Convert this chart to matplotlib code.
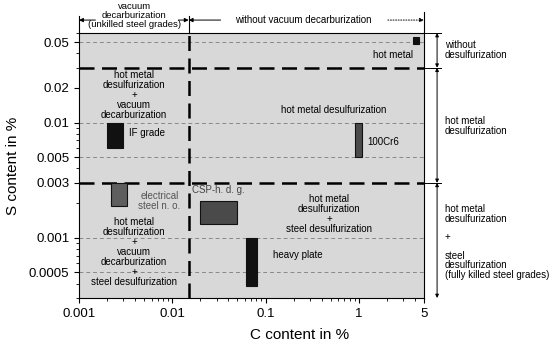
import numpy as np
import matplotlib
matplotlib.use("Agg")
import matplotlib.pyplot as plt
from matplotlib.patches import Rectangle
from matplotlib.ticker import FixedLocator, NullFormatter, LogLocator

# ── data ──────────────────────────────────────────────────────────────────────
C_LIM = (0.001, 5.0)
S_LIM = (0.0003, 0.06)
C_VAC = 0.015                 # vacuum / no-vacuum border
S_BORDERS = [0.03, 0.003]     # desulfurization route borders
S_GRID = [0.05, 0.01, 0.005, 0.001, 0.0005]

x_ticks = [0.001, 0.01, 0.1, 1, 5]
x_labels = ["0.001", "0.01", "0.1", "1", "5"]
y_ticks = [0.05, 0.02, 0.01, 0.005, 0.003, 0.001, 0.0005]
y_labels = ["0.05", "0.02", "0.01", "0.005", "0.003", "0.001", "0.0005"]

# steel grade windows: name, C min, C max, S min, S max, colour
grade_names = ["hot metal", "IF grade", "100Cr6", "electrical steel", "CSP-h.d.g.", "heavy plate"]
grade_c_min = [3.8, 0.002, 0.9, 0.0022, 0.02, 0.061]
grade_c_max = [4.4, 0.003, 1.07, 0.0033, 0.05, 0.082]
grade_s_min = [0.048, 0.006, 0.005, 0.0019, 0.00132, 0.00038]
grade_s_max = [0.055, 0.01, 0.01, 0.003, 0.0021, 0.001]
grade_colors = ["#111111", "#111111", "#4a4a4a", "#5e5e5e", "#4a4a4a", "#111111"]

plt.rcParams.update({"font.family": "Liberation Sans", "font.size": 10})

fig = plt.figure(figsize=(5.54, 3.45), dpi=100)
ax = fig.add_axes([0.1426, 0.1362, 0.6227, 0.768])
ax.set_xscale("log")
ax.set_yscale("log")
ax.set_xlim(*C_LIM)
ax.set_ylim(*S_LIM)
ax.set_facecolor("#d8d8d8")

# grid + borders
for s in S_GRID:
    ax.axhline(s, color="#888888", lw=0.7, ls=(0, (4, 3)))
for s in S_BORDERS:
    ax.axhline(s, color="black", lw=1.8, ls=(0, (6, 3)))
ax.axvline(C_VAC, color="black", lw=1.8, ls=(0, (6, 3)))

for c0, c1, s0, s1, col in zip(grade_c_min, grade_c_max, grade_s_min, grade_s_max, grade_colors):
    ax.add_patch(Rectangle((c0, s0), c1 - c0, s1 - s0, facecolor=col,
                           edgecolor="#111111", lw=0.8, zorder=3))

# ticks
ax.xaxis.set_major_locator(FixedLocator(x_ticks))
ax.set_xticklabels(x_labels)
ax.xaxis.set_minor_locator(LogLocator(base=10, subs=np.arange(2, 10)))
ax.xaxis.set_minor_formatter(NullFormatter())
ax.yaxis.set_major_locator(FixedLocator(y_ticks))
ax.set_yticklabels(y_labels)
ax.yaxis.set_minor_locator(LogLocator(base=10, subs=np.arange(2, 10)))
ax.yaxis.set_minor_formatter(NullFormatter())
ax.tick_params(labelsize=9.5)
ax.set_xlabel("C content in %", fontsize=11)
ax.set_ylabel("S content in %", fontsize=11)
ax.xaxis.set_label_coords(0.64, -0.14)
ax.xaxis.label.set_va("center")
ax.yaxis.set_label_coords(-0.19, 0.5)
ax.yaxis.label.set_va("center")

# labels inside the chart
fs = 7
ax.text(3.8, 0.039, "hot metal", fontsize=fs, ha="right", va="center")
ax.text(0.0039, 0.0175, "hot metal\ndesulfurization\n+\nvacuum\ndecarburization",
        fontsize=fs, ha="center", va="center", linespacing=1.0)
ax.text(0.0034, 0.0082, "IF grade", fontsize=fs, ha="left", va="center")
ax.text(0.54, 0.013, "hot metal desulfurization", fontsize=fs, ha="center", va="center")
ax.text(1.22, 0.0068, "100Cr6", fontsize=fs, ha="left", va="center")
ax.text(0.0073, 0.0021, "electrical\nsteel n. o.", fontsize=fs, ha="center", va="center",
        color="#555555", linespacing=1.0)
ax.text(0.0164, 0.0026, "CSP-h. d. g.", fontsize=fs, ha="left", va="center", color="#444444")
ax.text(0.0039, 0.00076,
        "hot metal\ndesulfurization\n+\nvacuum\ndecarburization\n+\nsteel desulfurization",
        fontsize=fs, ha="center", va="center", linespacing=1.0)
ax.text(0.48, 0.0016, "hot metal\ndesulfurization\n+\nsteel desulfurization",
        fontsize=fs, ha="center", va="center", linespacing=1.0)
ax.text(0.121, 0.00071, "heavy plate", fontsize=fs, ha="left", va="center")

# top annotations (x in data, y in axes)
tx = ax.get_xaxis_transform()
ya = 1.049
for c, top in [(C_LIM[0], 1.065), (C_VAC, 1.065), (C_LIM[1], 1.08)]:
    ax.plot([c, c], [1.0, top], transform=tx, color="black", lw=0.8, clip_on=False)
arr = dict(arrowstyle="-|>", lw=0.7, color="black", mutation_scale=6, shrinkA=0, shrinkB=0)
ax.annotate("", xy=(C_LIM[0], ya), xytext=(0.0015, ya), xycoords=tx, arrowprops=arr)
ax.annotate("", xy=(C_VAC, ya), xytext=(0.0116, ya), xycoords=tx, arrowprops=arr)
ax.text(0.0039, 1.066, "vacuum\ndecarburization\n(unkilled steel grades)", transform=tx,
        fontsize=6.8, ha="center", va="center", linespacing=1.0, clip_on=False)
ax.annotate("", xy=(C_VAC, ya), xytext=(0.033, ya), xycoords=tx, arrowprops=arr)
ax.annotate("", xy=(C_LIM[1], ya), xytext=(2.05, ya), xycoords=tx,
            arrowprops=dict(arr, ls=":"))
ax.text(0.256, 1.05, "without vacuum decarburization", transform=tx,
        fontsize=fs, ha="center", va="center", clip_on=False)

# right annotations (x in axes, y in data)
ty = ax.get_yaxis_transform()
xr = 1.038
for s0, s1 in [(S_LIM[1], S_BORDERS[0]), (S_BORDERS[0], S_BORDERS[1]), (S_BORDERS[1], S_LIM[0])]:
    ax.annotate("", xy=(xr, s0), xytext=(xr, s1), xycoords=ty,
                arrowprops=dict(arrowstyle="<|-|>", lw=0.7, color="black",
                                mutation_scale=5, shrinkA=0, shrinkB=0))
for s in [S_LIM[1], S_BORDERS[0], S_BORDERS[1]]:
    ax.plot([1.0, xr + 0.012], [s, s], transform=ty, color="black", lw=0.7, clip_on=False)
ax.text(1.06, 0.043, "without\ndesulfurization", transform=ty, fontsize=fs,
        ha="left", va="center", linespacing=1.0, clip_on=False)
ax.text(1.06, 0.0093, "hot metal\ndesulfurization", transform=ty, fontsize=fs,
        ha="left", va="center", linespacing=1.0, clip_on=False)
ax.text(1.06, 0.00092,
        "hot metal\ndesulfurization\n\n+\n\nsteel\ndesulfurization\n(fully killed steel grades)",
        transform=ty, fontsize=fs, ha="left", va="center", linespacing=0.92, clip_on=False)

fig.savefig("out.png", dpi=100)
